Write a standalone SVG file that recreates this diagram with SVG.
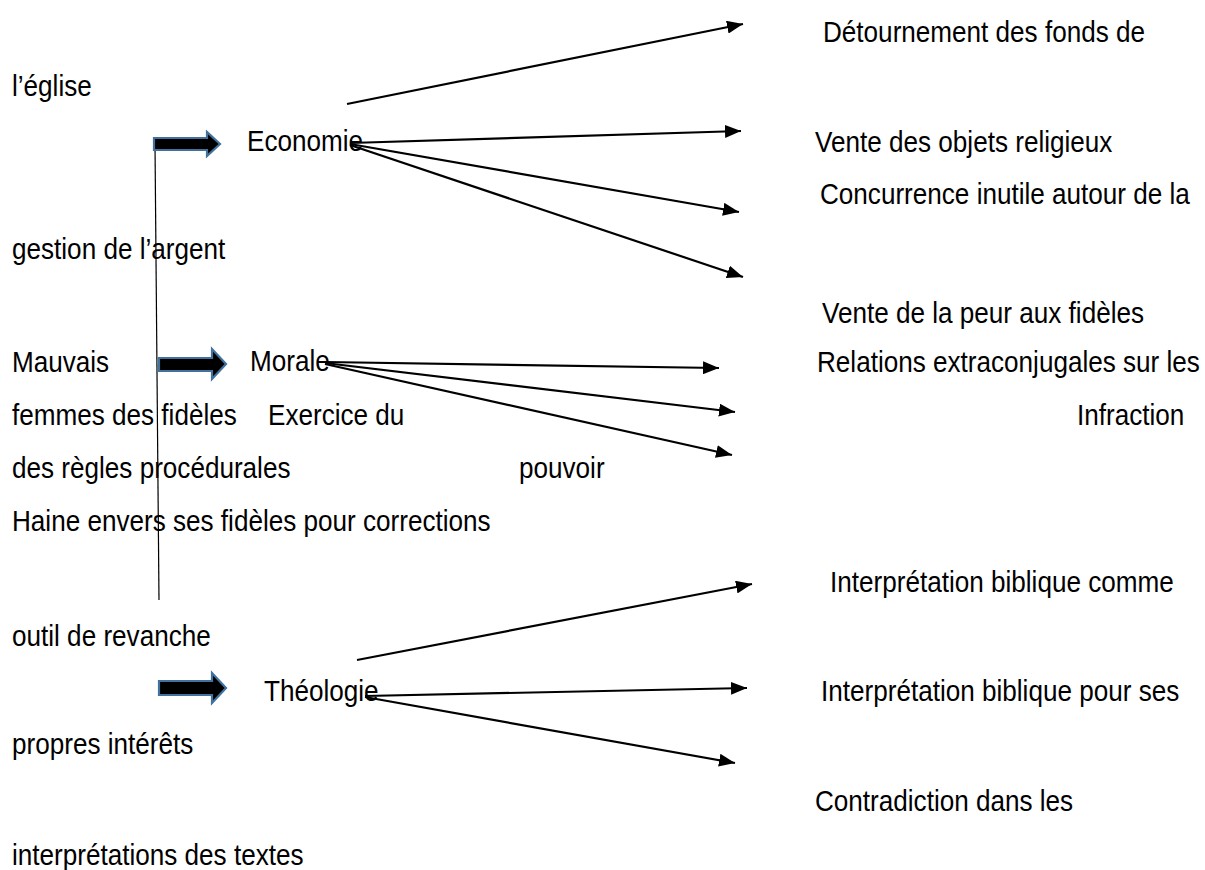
<svg xmlns="http://www.w3.org/2000/svg" width="1205" height="870" viewBox="0 0 1205 870">
<style>
.t{font-family:"Liberation Sans",Arial,sans-serif;font-size:30px;fill:#000}
.c{stroke:#000;stroke-width:2.2;fill:none;marker-end:url(#ah)}
.b{fill:#000;stroke:#41719C;stroke-width:2.2;stroke-linejoin:miter}
</style>
<defs>
<marker id="ah" markerUnits="userSpaceOnUse" markerWidth="17" markerHeight="13" refX="16" refY="6.5" orient="auto">
<path d="M0,0 L16,6.5 L0,13 z" fill="#000"/>
</marker>
</defs>
<rect width="1205" height="870" fill="#fff"/>

<g id="connectors">
<line x1="155" y1="144" x2="159" y2="600" stroke="#000" stroke-width="1.2"/>
<line class="c" x1="347" y1="104" x2="743" y2="24"/>
<line class="c" x1="350" y1="143" x2="741" y2="131"/>
<line class="c" x1="350" y1="144" x2="739" y2="212"/>
<line class="c" x1="350" y1="145" x2="743" y2="277"/>
<line class="c" x1="325" y1="362" x2="719" y2="368"/>
<line class="c" x1="325" y1="363" x2="735" y2="412"/>
<line class="c" x1="325" y1="364" x2="732" y2="455"/>
<line class="c" x1="357" y1="660" x2="752" y2="584"/>
<line class="c" x1="365" y1="696" x2="747" y2="688"/>
<line class="c" x1="365" y1="697" x2="735" y2="763"/>
</g>

<g id="arrow-economie">
<path class="b" d="M154,138 L207,138 L207,132 L220,144 L207,156 L207,150 L154,150 z"/>
</g>
<g id="arrow-morale">
<path class="b" d="M159,358 L212,358 L212,349 L226,364 L212,379 L212,371 L159,371 z"/>
</g>
<g id="arrow-theologie">
<path class="b" d="M159,681 L212,681 L212,673 L226,688 L212,703 L212,695 L159,695 z"/>
</g>

<g id="node-economie"><text class="t" transform="translate(247,151) scale(0.87,1)">Economie</text></g>
<g id="node-morale"><text class="t" transform="translate(250,371) scale(0.87,1)">Morale</text></g>
<g id="node-theologie"><text class="t" transform="translate(264,701) scale(0.87,1)">Théologie</text></g>

<g id="texts-right">
<text class="t" transform="translate(823,42) scale(0.87,1)">Détournement des fonds de</text>
<text class="t" transform="translate(815,152) scale(0.87,1)">Vente des objets religieux</text>
<text class="t" transform="translate(820,204) scale(0.87,1)">Concurrence inutile autour de la</text>
<text class="t" transform="translate(822,323) scale(0.87,1)">Vente de la peur aux fidèles</text>
<text class="t" transform="translate(817,372) scale(0.87,1)">Relations extraconjugales sur les</text>
<text class="t" transform="translate(1077,425) scale(0.87,1)">Infraction</text>
<text class="t" transform="translate(830,592) scale(0.87,1)">Interprétation biblique comme</text>
<text class="t" transform="translate(821,701) scale(0.87,1)">Interprétation biblique pour ses</text>
<text class="t" transform="translate(815,811) scale(0.87,1)">Contradiction dans les</text>
</g>

<g id="texts-left">
<text class="t" transform="translate(12,96) scale(0.87,1)">l’église</text>
<text class="t" transform="translate(12,259) scale(0.87,1)">gestion de l’argent</text>
<text class="t" transform="translate(12,372) scale(0.87,1)">Mauvais</text>
<text class="t" transform="translate(12,425) scale(0.87,1)">femmes des fidèles</text>
<text class="t" transform="translate(268,425) scale(0.87,1)">Exercice du</text>
<text class="t" transform="translate(12,478) scale(0.87,1)">des règles procédurales</text>
<text class="t" transform="translate(519,478) scale(0.87,1)">pouvoir</text>
<text class="t" transform="translate(12,531) scale(0.87,1)">Haine envers ses fidèles pour corrections</text>
<text class="t" transform="translate(12,646) scale(0.87,1)">outil de revanche</text>
<text class="t" transform="translate(12,754) scale(0.87,1)">propres intérêts</text>
<text class="t" transform="translate(12,865) scale(0.87,1)">interprétations des textes</text>
</g>
</svg>
